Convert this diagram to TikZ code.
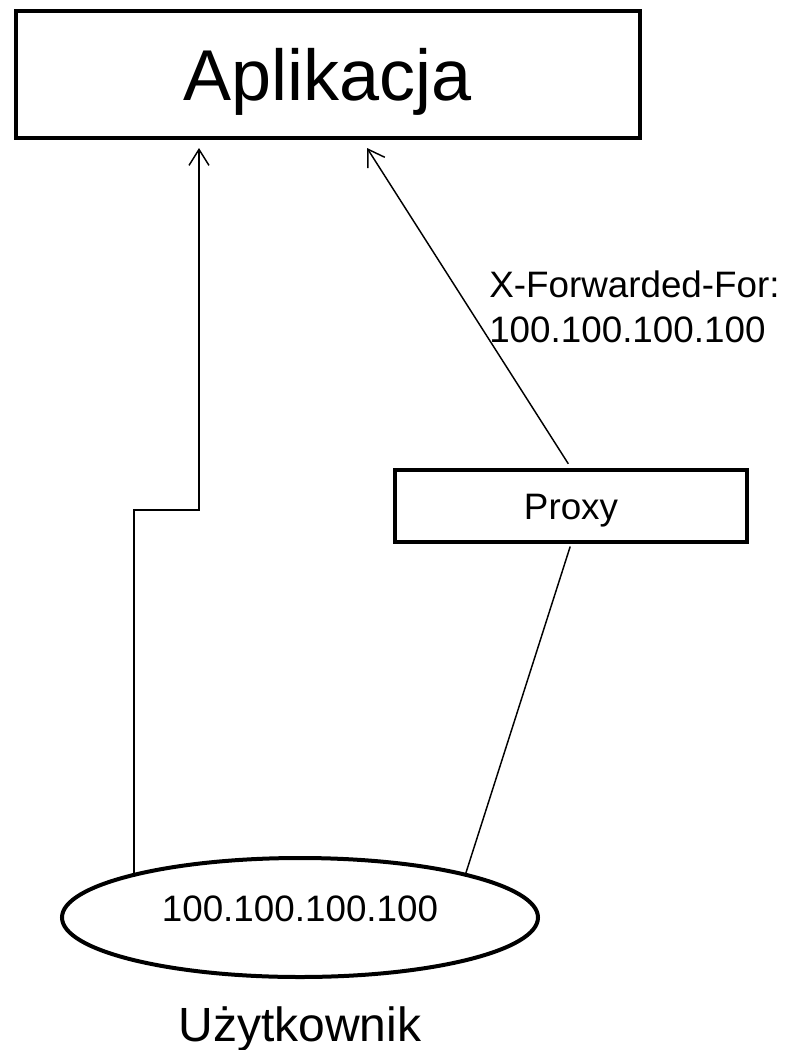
\documentclass[tikz,border=0pt]{standalone}
\usepackage{fontspec}
\setmainfont{Liberation Sans}
\usetikzlibrary{arrows.meta,shapes.geometric}

\tikzset{
  box/.style={draw, line width=3pt, inner sep=0pt, text depth=0pt},
  conn/.style={line width=1.1pt},
  tip/.style={-{Straight Barb[length=12pt,width=15pt]}}
}

\begin{document}
\begin{tikzpicture}[x=0.75pt, y=-0.75pt]
  \useasboundingbox (0,0) rectangle (794,1050);

  % boxes
  \node[box, minimum width=468pt, minimum height=95.25pt, text height=38.7pt, font=\fontsize{54}{64}\selectfont] (app) at (328,74.5) {Aplikacja};
  \node[box, minimum width=264pt, minimum height=54pt, text height=19.8pt, font=\fontsize{27.6}{33.75}\selectfont] (proxy) at (571,506) {Proxy};
  \node[draw, ellipse, line width=3pt, inner sep=0pt, minimum width=357pt, minimum height=89.25pt,
        text height=19.8pt, text depth=13.8pt, font=\fontsize{27.6}{33.75}\selectfont] (user) at (300,917.5) {100.100.100.100};

  % labels
  \node[anchor=base, inner sep=0pt, font=\fontsize{36}{43}\selectfont] (username) at (300,1041) {Użytkownik};
  \node[anchor=north west, align=left, inner sep=0pt, font=\fontsize{27.6}{33.75}\selectfont] (header) at (489,271) {X-Forwarded-For:\\100.100.100.100};

  \coordinate (inL) at (199,148);
  \coordinate (inR) at (367,148);
  \coordinate (bendL) at (133,510);

  % connectors
  \draw[conn, tip] (user.165) -- (user.165 |- bendL) -| (inL);
  \draw[conn, tip, shorten <=3.75pt] (proxy.north) -- (inR);
  \draw[conn, shorten <=2pt] (proxy.south) -- (user.15);
\end{tikzpicture}
\end{document}
